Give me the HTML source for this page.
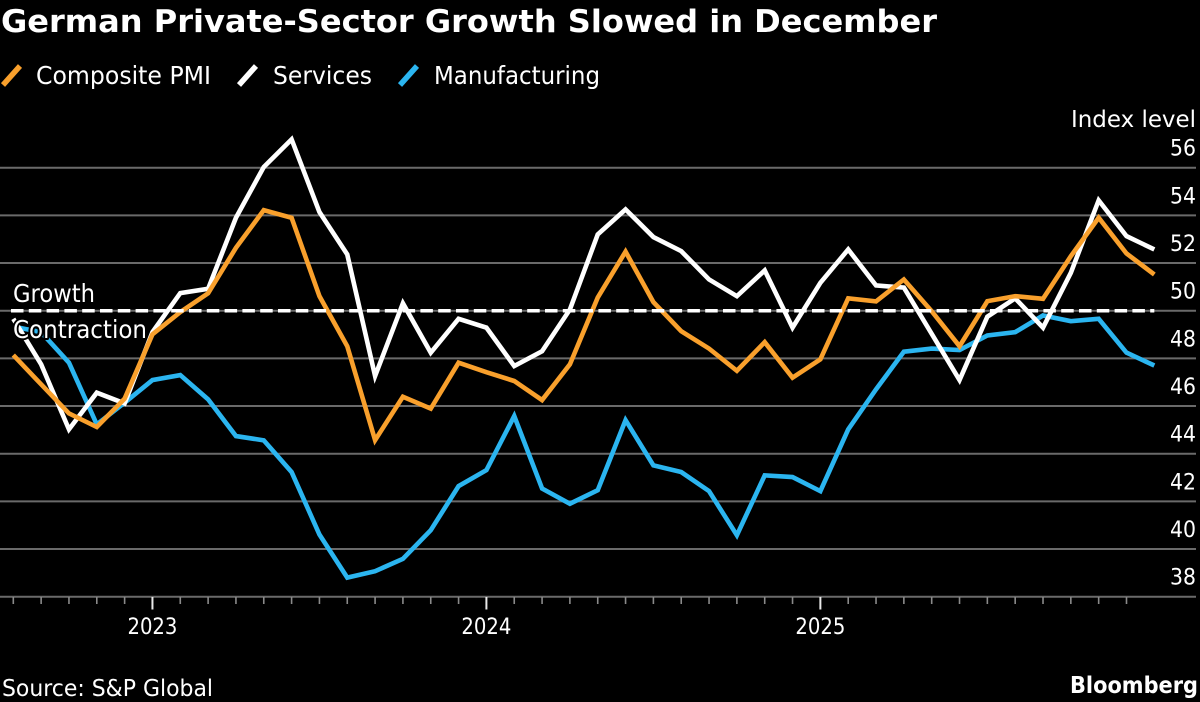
<!DOCTYPE html>
<html>
<head>
<meta charset="utf-8">
<title>German Private-Sector Growth Slowed in December</title>
<style>
html,body{margin:0;padding:0;background:#000;width:1200px;height:702px;overflow:hidden}
svg{display:block}
text{font-family:"DejaVu Sans","Liberation Sans",sans-serif;fill:#fff}
.halo{paint-order:stroke;stroke:#000;stroke-width:4px;stroke-linejoin:round}
</style>
</head>
<body>
<svg id="chart" xmlns="http://www.w3.org/2000/svg" width="1200" height="702" viewBox="0 0 1200 702">
  <rect x="0" y="0" width="1200" height="702" fill="#000"/>
  <text x="1" y="32" font-size="31" font-weight="700" textLength="936" lengthAdjust="spacingAndGlyphs">German Private-Sector Growth Slowed in December</text>
  <g>
    <g>
      <line x1="3" y1="85" x2="20" y2="66" stroke="#f9a02c" stroke-width="5.5"/>
      <text x="36" y="84" font-size="25" textLength="175" lengthAdjust="spacingAndGlyphs">Composite PMI</text>
    </g>
    <g>
      <line x1="239" y1="85" x2="256" y2="66" stroke="#fff" stroke-width="5.5"/>
      <text x="273" y="84" font-size="25" textLength="99" lengthAdjust="spacingAndGlyphs">Services</text>
    </g>
    <g>
      <line x1="400" y1="85" x2="417" y2="66" stroke="#2bb5f0" stroke-width="5.5"/>
      <text x="434" y="84" font-size="25" textLength="166" lengthAdjust="spacingAndGlyphs">Manufacturing</text>
    </g>
  </g>
  <text x="1071" y="127" font-size="23" textLength="125" lengthAdjust="spacingAndGlyphs">Index level</text>
  <g id="grid"></g>
  <g id="yLabels"></g>
  <g id="xAxis"></g>
  <g id="series"></g>
  <line id="refLine" stroke="#fff" stroke-width="3.5" stroke-dasharray="12.5 5.3"/>
  <text class="halo" x="13" y="302" font-size="24.5" textLength="82" lengthAdjust="spacingAndGlyphs">Growth</text>
  <text class="halo" x="13" y="338" font-size="24.5" textLength="134" lengthAdjust="spacingAndGlyphs">Contraction</text>
  <text x="2" y="696" font-size="23" textLength="211" lengthAdjust="spacingAndGlyphs">Source: S&amp;P Global</text>
  <text x="1070" y="693" font-size="23" font-weight="700" textLength="128" lengthAdjust="spacingAndGlyphs">Bloomberg</text>
</svg>
<script>
var composite = [48.14,46.91,45.69,45.12,46.31,49.01,49.94,50.73,52.64,54.22,53.90,50.61,48.51,44.57,46.39,45.89,47.82,47.42,47.05,46.25,47.75,50.55,52.48,50.36,49.14,48.41,47.48,48.68,47.19,47.96,50.52,50.39,51.31,49.98,48.51,50.40,50.61,50.50,52.29,53.90,52.40,51.52];
var services = [49.66,47.75,45.02,46.56,46.11,49.10,50.74,50.92,53.90,56.03,57.19,54.14,52.36,47.26,50.31,48.24,49.66,49.29,47.68,48.30,50.05,53.20,54.25,53.09,52.50,51.31,50.61,51.69,49.29,51.17,52.57,51.06,50.97,49.03,47.09,49.75,50.52,49.29,51.59,54.63,53.13,52.57];
var manufacturing = [49.33,49.10,47.82,45.23,46.14,47.09,47.30,46.28,44.74,44.56,43.23,40.61,38.80,39.07,39.59,40.79,42.64,43.31,45.58,42.54,41.90,42.47,45.41,43.51,43.23,42.43,40.58,43.09,43.02,42.43,45.02,46.70,48.28,48.41,48.35,48.96,49.10,49.80,49.56,49.66,48.24,47.70];
var yTicks = [56,54,52,50,48,46,44,42,40,38];
var xYears = ['2023','2024','2025'];
var yearTickIndex = [5,17,29];
var tickCount = 41;
var threshold = 50;

var NS = 'http://www.w3.org/2000/svg';
function xPos(i){ return 13.3 + 27.83 * i; }
function yPos(v){ return 596.7 - (v - 38) * 23.833; }
function mk(tag, parent, attrs){
  var el = document.createElementNS(NS, tag);
  for (var k in attrs) el.setAttribute(k, attrs[k]);
  parent.appendChild(el);
  return el;
}

var grid = document.getElementById('grid');
var yLabels = document.getElementById('yLabels');
yTicks.forEach(function(v){
  var ln = mk('line', grid, {x1:0, x2:1196, y1:yPos(v), y2:yPos(v), stroke:'#6a6a6a', 'stroke-width':2});
  
  
  var t = mk('text', yLabels, {x:1170, y:yPos(v) - 12, 'font-size':22.5, textLength:26, lengthAdjust:'spacingAndGlyphs'});
  
  
  t.textContent = String(v);
});

var xAxis = document.getElementById('xAxis');
for (var i = 0; i <= tickCount - 1; i++) {
  var major = yearTickIndex.indexOf(i) >= 0;
  var tk = mk('line', xAxis, {x1:xPos(i), x2:xPos(i), y1:597, y2:major ? 609.5 : 604, stroke:major ? '#e8e8e8' : '#8a8a8a', 'stroke-width':major ? 2 : 1.6});
  
  
}
xYears.forEach(function(y, j){
  var t = mk('text', xAxis, {x:xPos(yearTickIndex[j]) - 25, y:634, 'font-size':22.5, textLength:50, lengthAdjust:'spacingAndGlyphs'});
  
  
  t.textContent = y;
});

var seriesGroup = document.getElementById('series');
function drawSeries(values, color, name){
  var pts = values.map(function(v, i){ return xPos(i).toFixed(2) + ',' + yPos(v).toFixed(2); }).join(' ');
  var pl = mk('polyline', seriesGroup, {points:pts, fill:'none', stroke:color, 'stroke-width':4.6, 'stroke-linejoin':'miter', 'stroke-linecap':'butt'});
  
  
}
drawSeries(manufacturing, '#2bb5f0', 'manufacturing-line');
drawSeries(services, '#ffffff', 'services-line');
drawSeries(composite, '#f9a02c', 'composite-pmi-line');

var ref = document.getElementById('refLine');
ref.setAttribute('x1', 11);
ref.setAttribute('x2', xPos(composite.length - 1));
ref.setAttribute('y1', yPos(threshold));
ref.setAttribute('y2', yPos(threshold));
</script>
</body>
</html>
